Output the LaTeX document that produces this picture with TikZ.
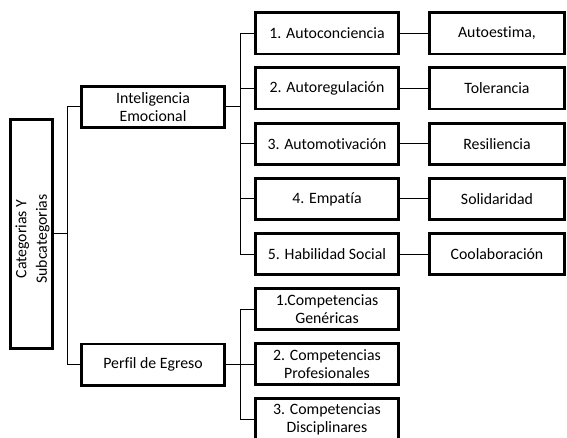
\documentclass[tikz,border=0pt]{standalone}
\usepackage{fontspec}
\setmainfont[Ligatures=NoCommon]{Carlito}
\begin{document}
\begin{tikzpicture}[x=1pt,y=-1pt,
  every node/.style={font=\fontsize{15.8}{18.3}\selectfont},
  box/.style={draw=black,line width=2.6pt,inner sep=0pt,align=center,minimum height=41.4pt},
  boxA/.style={box,minimum width=143.4pt},
  boxB/.style={box,minimum width=135pt},
  conn/.style={draw=black,line width=1pt}]
\clip (0,0) rectangle (567,438);
\node[box,minimum width=42.4pt,minimum height=229.4pt] (root) at (31.5,234) {};
\node[rotate=90,align=center,inner sep=0pt,font=\fontsize{15.8}{20.5}\selectfont] (roottext) at (32.5,239) {Categorias Y\\Subcategorias};
\node[boxA] (ie) at (153,107) {Inteligencia\\Emocional};
\node[boxA] (pe) at (153,364.5) {Perfil de Egreso};
\node[boxA] (a1) at (327,33.5) {1. Autoconciencia};
\node[boxA] (a2) at (327,88.5) {2. Autoregulación};
\node[boxA] (a3) at (327,144) {3. Automotivación};
\node[boxA] (a4) at (327,199) {4. Empatía};
\node[boxA] (a5) at (327,254) {5. Habilidad Social};
\node[boxA] (c1) at (327,309) {1.Competencias\\Genéricas};
\node[boxA] (c2) at (327,364) {2. Competencias\\Profesionales};
\node[boxA] (c3) at (327,419) {3. Competencias\\Disciplinares};
\node[boxB] (b1) at (497,33.5) {Autoestima,};
\node[boxB] (b2) at (497,88.5) {Tolerancia};
\node[boxB] (b3) at (497,144) {Resiliencia};
\node[boxB] (b4) at (497,199) {Solidaridad};
\node[boxB] (b5) at (497,254) {Coolaboración};
\draw[conn] (root.east) -- ++(13,0) |- (ie.west);
\draw[conn] (root.east) -- ++(13,0) |- (pe.west);
\foreach \n in {a1,a2,a3,a4,a5}{\draw[conn] (ie.east) -- ++(14,0) |- (\n.west);}
\foreach \n in {c1,c2,c3}{\draw[conn] (pe.east) -- ++(14,0) |- (\n.west);}
\foreach \i in {1,...,5}{\draw[conn] (a\i.east) -- (b\i.west);}
\end{tikzpicture}
\end{document}
